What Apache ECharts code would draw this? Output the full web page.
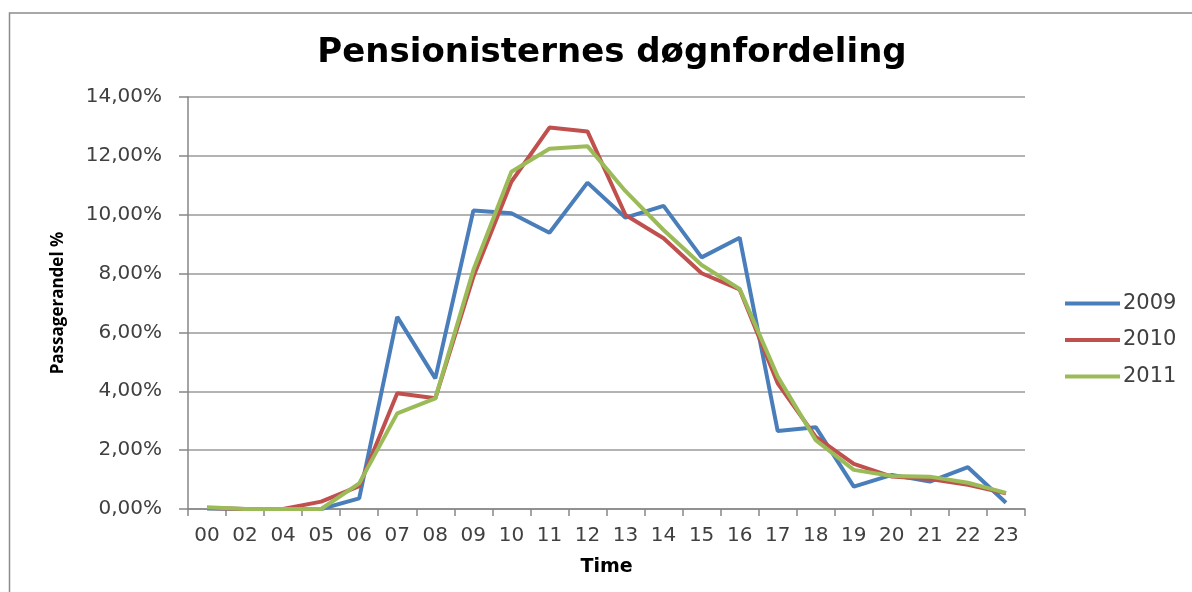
<!DOCTYPE html>
<html>
<head>
<meta charset="utf-8">
<title>Pensionisternes døgnfordeling</title>
<script src="https://cdn.jsdelivr.net/npm/echarts@6/dist/echarts.min.js"></script>
<style>
  html, body { margin: 0; padding: 0; background: #ffffff; }
  #chart { width: 1192px; height: 592px; }
</style>
</head>
<body>
<div id="chart"></div>
<script>
// Hours of the day (category axis)
const hours = ['00', '02', '04', '05', '06', '07', '08', '09', '10', '11', '12',
               '13', '14', '15', '16', '17', '18', '19', '20', '21', '22', '23'];

// Share of passengers per hour, in percent
const share2009 = [0.02, 0.00, 0.00, 0.00, 0.36, 6.53, 4.44, 10.14, 10.05, 9.39, 11.09,
                   9.90, 10.30, 8.55, 9.22, 2.65, 2.78, 0.76, 1.16, 0.93, 1.42, 0.21];
const share2010 = [0.03, 0.00, 0.00, 0.25, 0.78, 3.93, 3.76, 7.89, 11.12, 12.96, 12.83,
                   9.99, 9.20, 8.01, 7.46, 4.27, 2.45, 1.53, 1.10, 1.02, 0.82, 0.53];
const share2011 = [0.06, 0.00, 0.00, 0.00, 0.87, 3.25, 3.76, 8.12, 11.46, 12.24, 12.33,
                   10.80, 9.48, 8.29, 7.48, 4.50, 2.34, 1.33, 1.12, 1.10, 0.89, 0.55];

// Y axis ticks (percent)
const yMin = 0, yMax = 14, yStep = 2;

const seriesNames = ['2009', '2010', '2011'];
const seriesColors = ['#4a7ebb', '#c0504d', '#9bbb59'];
const seriesData = [share2009, share2010, share2011];

const wideFont = '"DejaVu Sans", "Open Sans", sans-serif';
const sansFont = '"Open Sans", "DejaVu Sans", sans-serif';
const chart = echarts.init(document.getElementById('chart'), null, { renderer: 'canvas' });

chart.setOption({
  backgroundColor: '#ffffff',
  animation: false,
  title: {
    text: 'Pensionisternes døgnfordeling',
    left: 607,
    textAlign: 'center',
    top: 31,
    textStyle: { fontFamily: wideFont, fontWeight: 'bold', fontSize: 34, color: '#000000' }
  },
  graphic: [{
    type: 'rect',
    shape: { x: 9.5, y: 13, width: 1200, height: 600 },
    style: { fill: 'none', stroke: '#8c8c8c', lineWidth: 1.5 },
    silent: true
  }],
  legend: {
    orient: 'vertical',
    left: 1065,
    top: 293,
    padding: 0,
    itemWidth: 55,
    itemHeight: 4,
    itemGap: 15.5,
    icon: 'rect',
    data: seriesNames,
    textStyle: { fontFamily: wideFont, fontSize: 21, color: '#404040', lineHeight: 21, padding: [0, 0, 0, -2] }
  },
  grid: { left: 188, right: 167, top: 97, bottom: 83, containLabel: false },
  xAxis: {
    type: 'category',
    data: hours,
    boundaryGap: true,
    name: 'Time',
    nameLocation: 'middle',
    nameGap: 49,
    nameTextStyle: { fontFamily: wideFont, fontWeight: 'bold', fontSize: 19, color: '#000000' },
    axisLine: { lineStyle: { color: '#868686', width: 1.5 } },
    axisTick: { show: true, alignWithLabel: false, length: 7, lineStyle: { color: '#868686', width: 1.5 } },
    axisLabel: { margin: 17, fontFamily: wideFont, fontSize: 20, color: '#404040', interval: 0 },
    splitLine: { show: false }
  },
  yAxis: {
    type: 'value',
    min: yMin,
    max: yMax,
    interval: yStep,
    name: 'Passagerandel %',
    nameLocation: 'middle',
    nameGap: 121,
    nameRotate: 90,
    nameTextStyle: { fontFamily: sansFont, fontWeight: 'bold', fontSize: 17, color: '#000000' },
    axisLine: { show: true, lineStyle: { color: '#868686', width: 1.5 } },
    axisTick: { show: true, length: 9, lineStyle: { color: '#868686', width: 1.5 } },
    axisLabel: {
      margin: 26,
      fontFamily: wideFont,
      fontSize: 20,
      color: '#404040',
      formatter: v => v.toFixed(2).replace('.', ',') + '%'
    },
    splitLine: { show: true, lineStyle: { color: '#9a9a9a', width: 1.5 } }
  },
  series: seriesNames.map((name, i) => ({
    name: name,
    type: 'line',
    data: seriesData[i],
    symbol: 'none',
    smooth: false,
    color: seriesColors[i],
    lineStyle: { color: seriesColors[i], width: 4 },
    itemStyle: { color: seriesColors[i] },
    z: 2 + i
  }))
});
</script>
</body>
</html>
